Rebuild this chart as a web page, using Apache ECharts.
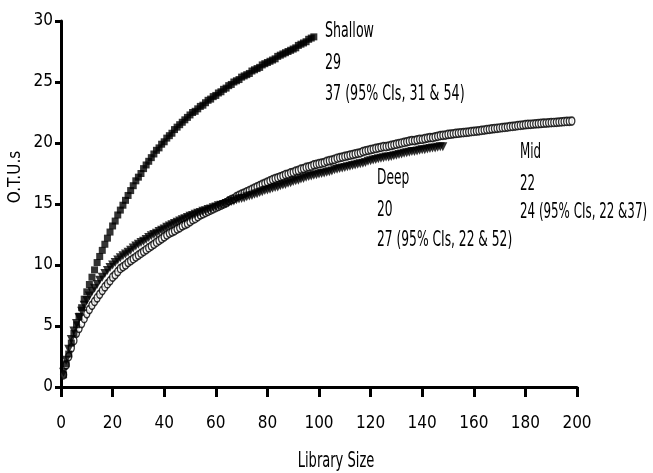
<!DOCTYPE html>
<html>
<head>
<meta charset="utf-8">
<script src="https://cdn.jsdelivr.net/npm/echarts@6/dist/echarts.min.js"></script>
<style>html,body{margin:0;padding:0;background:#fff}#c{width:653px;height:473px}</style>
</head>
<body>
<div id="c"></div>
<script>
// Library sizes start at 1 and step by 1 for each series
var xTicks = [0,20,40,60,80,100,120,140,160,180,200];
var yTicks = [0,5,10,15,20,25,30];

var shallowOTUs = [1.0,1.9,2.7,3.6,4.4,5.1,5.8,6.5,7.2,7.8,8.4,9.0,9.6,10.2,10.7,11.2,11.7,12.2,12.7,13.2,
13.6,14.1,14.5,14.9,15.3,15.7,16.1,16.5,16.9,17.2,17.5,17.9,18.2,18.5,18.8,19.1,19.4,19.6,19.9,20.1,
20.4,20.6,20.8,21.1,21.3,21.5,21.7,21.9,22.1,22.3,22.5,22.6,22.8,23.0,23.1,23.3,23.5,23.6,23.8,23.9,
24.1,24.2,24.4,24.5,24.7,24.8,25.0,25.1,25.2,25.4,25.5,25.6,25.7,25.9,26.0,26.1,26.2,26.4,26.5,26.6,
26.7,26.8,26.9,27.1,27.2,27.3,27.4,27.5,27.6,27.7,27.8,28.0,28.1,28.2,28.3,28.5,28.6,28.7];

var midOTUs = [1.0,1.8,2.5,3.2,3.8,4.4,4.8,5.2,5.6,6.0,6.35,6.7,7.0,7.3,7.6,7.9,8.2,8.45,8.7,9.0,
9.2,9.45,9.7,9.85,10.0,10.2,10.35,10.5,10.65,10.8,10.95,11.1,11.25,11.4,11.55,11.7,11.85,12.0,12.15,12.3,
12.45,12.6,12.7,12.8,12.95,13.05,13.2,13.3,13.4,13.55,13.7,13.8,13.95,14.1,14.2,14.3,14.4,14.5,14.6,14.7,
14.8,14.9,15.0,15.1,15.25,15.35,15.45,15.6,15.7,15.8,15.9,16.0,16.1,16.2,16.3,16.4,16.5,16.6,16.7,16.8,
16.9,17.0,17.08,17.15,17.23,17.3,17.4,17.45,17.55,17.6,17.7,17.75,17.85,17.9,18.0,18.05,18.1,18.2,18.25,18.3,
18.35,18.4,18.5,18.55,18.6,18.65,18.75,18.8,18.85,18.9,18.95,19.0,19.05,19.1,19.15,19.2,19.3,19.35,19.4,19.45,
19.5,19.55,19.6,19.65,19.7,19.7,19.75,19.8,19.85,19.9,19.95,20.0,20.05,20.1,20.15,20.2,20.2,20.25,20.3,20.3,
20.35,20.4,20.45,20.45,20.5,20.55,20.6,20.63,20.65,20.7,20.72,20.75,20.78,20.8,20.83,20.85,20.88,20.9,20.93,20.95,
20.98,21.0,21.03,21.06,21.1,21.12,21.15,21.18,21.2,21.23,21.26,21.28,21.31,21.34,21.36,21.39,21.42,21.44,21.47,21.5,
21.52,21.53,21.55,21.57,21.58,21.6,21.62,21.63,21.65,21.67,21.68,21.7,21.72,21.73,21.75,21.77,21.78,21.8];

var deepOTUs = [1.2,2.2,3.1,3.9,4.6,5.2,5.7,6.2,6.7,7.1,7.45,7.8,8.1,8.4,8.75,9.0,9.3,9.55,9.8,10.0,
10.2,10.4,10.6,10.75,10.9,11.05,11.2,11.4,11.55,11.7,11.85,11.95,12.1,12.25,12.4,12.5,12.6,12.75,12.85,12.95,
13.1,13.2,13.3,13.4,13.5,13.6,13.7,13.8,13.9,14.0,14.05,14.15,14.25,14.3,14.4,14.45,14.55,14.6,14.7,14.75,
14.85,14.9,14.95,15.05,15.1,15.2,15.25,15.35,15.4,15.45,15.5,15.6,15.65,15.7,15.8,15.85,15.95,16.0,16.1,16.15,
16.2,16.3,16.35,16.4,16.5,16.55,16.6,16.7,16.75,16.85,16.9,16.95,17.05,17.1,17.2,17.25,17.3,17.35,17.4,17.45,
17.5,17.55,17.6,17.65,17.7,17.8,17.85,17.9,17.95,18.0,18.05,18.1,18.15,18.2,18.25,18.3,18.35,18.4,18.5,18.55,
18.6,18.65,18.7,18.75,18.8,18.85,18.85,18.9,18.95,19.0,19.05,19.1,19.15,19.2,19.25,19.3,19.3,19.35,19.4,19.45,
19.45,19.5,19.55,19.6,19.6,19.65,19.7,19.7];

var shallowText = ['Shallow','29','37 (95% CIs, 31 & 54)'];
var deepText = ['Deep','20','27 (95% CIs, 22 & 52)'];
var midText = ['Mid','22','24 (95% CIs, 22 &37)'];
var xName = 'Library Size';
var yName = 'O.T.U.s';

function pairs(arr){ return arr.map(function(v,i){ return [i+1, v]; }); }

var FONT = '"DejaVu Sans Condensed", "DejaVu Sans", sans-serif';
var chart = echarts.init(document.getElementById('c'), null, {renderer:'canvas'});

function txt(t, x, y, size, sx, align, rot){
  return {type:'text', x:x, y:y, scaleX:sx, rotation:rot||0,
    style:{text:t, fill:'#000', font:size + 'px ' + FONT, verticalAlign:'middle', align:align||'left'}};
}
function textBlock(lines, x, ys, sx){
  return lines.map(function(t, i){ return txt(t, x, ys[i], 22, sx); });
}

var graphics = [].concat(
  textBlock(shallowText, 325, [31, 63.5, 94], 0.64),
  textBlock(deepText, 377, [178.5, 210.5, 240], 0.62),
  textBlock(midText, 520, [152.5, 184, 212.5], 0.6),
  [txt(xName, 336, 461, 22, 0.66, 'center'),
   txt(yName, 16, 177, 17, 1, 'center', Math.PI/2)]
);

chart.setOption({
  animation:false,
  backgroundColor:'#fff',
  grid:{left:61, right:76, top:21, bottom:86, containLabel:false},
  xAxis:{
    type:'value', min:xTicks[0], max:xTicks[xTicks.length-1], interval:20,
    axisLine:{show:true, onZero:false, lineStyle:{color:'#000', width:3}},
    axisTick:{show:true, length:10, lineStyle:{color:'#000', width:3}},
    axisLabel:{fontFamily:FONT, fontSize:17, color:'#000', margin:28},
    splitLine:{show:false}
  },
  yAxis:{
    type:'value', min:yTicks[0], max:yTicks[yTicks.length-1], interval:5,
    axisLine:{show:true, onZero:false, lineStyle:{color:'#000', width:3}},
    axisTick:{show:true, length:6, lineStyle:{color:'#000', width:3}},
    axisLabel:{fontFamily:FONT, fontSize:17, color:'#000', margin:8},
    splitLine:{show:false}
  },
  graphic: graphics,
  series:[
    {name:'Mid', type:'scatter', data:pairs(midOTUs), symbol:'circle', symbolSize:[6,8],
     itemStyle:{color:'#fff', borderColor:'#000', borderWidth:1.5}, z:2},
    {name:'Deep', type:'scatter', data:pairs(deepOTUs), symbol:'triangle', symbolRotate:180, symbolSize:9,
     itemStyle:{color:'#000'}, z:3},
    {name:'Shallow', type:'scatter', data:pairs(shallowOTUs), symbol:'rect', symbolSize:[7,7],
     itemStyle:{color:'#000'}, z:4}
  ]
});
</script>
</body>
</html>
